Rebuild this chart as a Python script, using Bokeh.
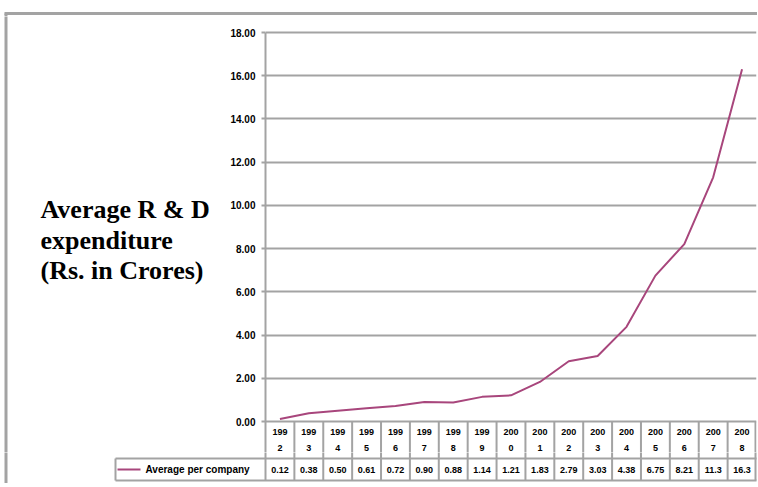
from bokeh.plotting import figure
from bokeh.layouts import column, row
from bokeh.models import Range1d, FixedTicker, NumeralTickFormatter
from bokeh.core.properties import value
from bokeh.embed import file_html
from bokeh.resources import INLINE

# ---- data ----
years = ["1992", "1993", "1994", "1995", "1996", "1997", "1998", "1999", "2000",
         "2001", "2002", "2003", "2004", "2005", "2006", "2007", "2008"]
avg_per_company = [0.12, 0.38, 0.50, 0.61, 0.72, 0.90, 0.88, 1.14, 1.21,
                   1.83, 2.79, 3.03, 4.38, 6.75, 8.21, 11.3, 16.3]
value_labels = ["0.12", "0.38", "0.50", "0.61", "0.72", "0.90", "0.88", "1.14", "1.21",
                "1.83", "2.79", "3.03", "4.38", "6.75", "8.21", "11.3", "16.3"]
y_ticks = [0, 2, 4, 6, 8, 10, 12, 14, 16, 18]
series_name = "Average per company"
title_lines = ["Average R & D", "expenditure", "(Rs. in Crores)"]

# ---- layout constants (page pixels from the layout origin) ----
W, H = 757, 483
STRIP_H = 16           # top strip that carries the outer border
TOP_END = 452          # bottom of the chart row (plot + year header)
LEFT_W = 218           # width of the title panel
AXIS_X = 265           # x of the value axis
RIGHT_PAD = 1
Y18 = 32               # y of the 18.00 line
Y0 = 421               # y of the 0.00 line
HEAD_BOT = 458         # y of the line under the year header
TAB_BOT = 480          # y of the table's bottom line
BORDER_X = 5.5
BORDER_Y = 13
n = len(years)
px_x = (W - AXIS_X - RIGHT_PAD) / n
px_y = (Y0 - Y18) / 18.0

GRAY = "#a3a3a3"
LINE_COL = "#a8467c"
FONT = value("Liberation Sans")

def bare(fig):
    fig.outline_line_color = None
    fig.grid.visible = False
    return fig

# ================= top strip (outer border) =================
strip = bare(figure(width=W, height=STRIP_H, x_range=Range1d(0, W), y_range=Range1d(-STRIP_H, 0),
                    output_backend="svg", toolbar_location=None, x_axis_location=None,
                    y_axis_location=None, min_border=0))
strip.segment(x0=[BORDER_X - 1.5, BORDER_X], y0=[-BORDER_Y, -BORDER_Y], x1=[W + 5, BORDER_X],
              y1=[-BORDER_Y, -STRIP_H - 5], line_color=GRAY, line_width=3)

ROW_H = TOP_END - STRIP_H

# ================= title panel =================
left = bare(figure(width=LEFT_W, height=ROW_H, x_range=Range1d(0, LEFT_W),
                   y_range=Range1d(-TOP_END, -STRIP_H),
                   output_backend="svg", toolbar_location=None, x_axis_location=None,
                   y_axis_location=None, min_border=0))
left.segment(x0=[BORDER_X], y0=[0], x1=[BORDER_X], y1=[-TOP_END - 5],
             line_color=GRAY, line_width=3)
left.text(x=[40] * 3, y=[-209, -240, -270], text=title_lines, text_baseline="alphabetic",
          text_font=value("Liberation Serif"), text_font_style="bold",
          text_font_size="26px", text_color="black")

# ================= line chart + year header =================
def y_main(fy):
    return (Y0 - fy) / px_y

MAIN_W = W - LEFT_W
p = figure(width=MAIN_W, height=ROW_H, x_range=Range1d(0, n),
           y_range=Range1d(y_main(TOP_END), y_main(STRIP_H)),
           output_backend="svg", toolbar_location=None, x_axis_location=None,
           min_border_left=AXIS_X - LEFT_W, min_border_right=RIGHT_PAD,
           min_border_top=0, min_border_bottom=0)
p.outline_line_color = None
p.xgrid.visible = False
p.ygrid.ticker = FixedTicker(ticks=y_ticks)
p.ygrid.grid_line_color = GRAY
p.ygrid.grid_line_width = 2

ax = p.yaxis[0]
ax.ticker = FixedTicker(ticks=y_ticks)
ax.bounds = (y_main(TOP_END + 5), 18)
ax.formatter = NumeralTickFormatter(format="0.00")
ax.axis_line_color = GRAY
ax.axis_line_width = 2
ax.major_tick_line_color = GRAY
ax.major_tick_line_width = 2
ax.major_tick_in = 0
ax.major_tick_out = 4
ax.minor_tick_line_color = None
ax.major_label_text_font = "Liberation Sans"
ax.major_label_text_font_style = "bold"
ax.major_label_text_font_size = "10px"
ax.major_label_text_color = "black"
ax.major_label_standoff = 6

xs = [i + 0.5 for i in range(n)]
p.line(xs, avg_per_company, line_color=LINE_COL, line_width=2)

# year header: column separators and labels
cols = [i + 1 for i in range(n)]
cols[-1] = n - 1.0 / px_x
p.segment(x0=cols, y0=[0] * n, x1=cols, y1=[y_main(TOP_END + 5)] * n,
          line_color=GRAY, line_width=2)
p.text(x=xs, y=[y_main(431)] * n, text=[y[:3] for y in years], text_align="center",
       text_baseline="middle", text_font=FONT, text_font_style="bold",
       text_font_size="9px", text_color="black")
p.text(x=xs, y=[y_main(447)] * n, text=[y[3:] for y in years], text_align="center",
       text_baseline="middle", text_font=FONT, text_font_style="bold",
       text_font_size="9px", text_color="black")

# ================= value row of the data table =================
TAB_H = H - TOP_END
def x_tab(fx):
    return (fx - AXIS_X) / px_x

t = bare(figure(width=W, height=TAB_H, x_range=Range1d(x_tab(0), x_tab(W)),
                y_range=Range1d(-H, -TOP_END),
                output_backend="svg", toolbar_location=None, x_axis_location=None,
                y_axis_location=None, min_border=0))

tcols = [0] + cols
t.segment(x0=tcols, y0=[-TOP_END + 5] * (n + 1), x1=tcols, y1=[-TAB_BOT] * (n + 1),
          line_color=GRAY, line_width=2)
t.segment(x0=[x_tab(115), x_tab(115)], y0=[-HEAD_BOT, -TAB_BOT], x1=[n, n],
          y1=[-HEAD_BOT, -TAB_BOT], line_color=GRAY, line_width=2)
t.segment(x0=[x_tab(115)], y0=[-HEAD_BOT], x1=[x_tab(115)], y1=[-TAB_BOT],
          line_color=GRAY, line_width=2)
# outer border (left)
t.segment(x0=[x_tab(BORDER_X)], y0=[-TOP_END + 5], x1=[x_tab(BORDER_X)], y1=[-H - 5],
          line_color=GRAY, line_width=3)

row_mid = -(HEAD_BOT + TAB_BOT) / 2
t.segment(x0=[x_tab(117)], y0=[row_mid], x1=[x_tab(140)], y1=[row_mid],
          line_color=LINE_COL, line_width=2)
t.text(x=[x_tab(145)], y=[row_mid], text=[series_name], text_baseline="middle",
       text_font=FONT, text_font_style="bold", text_font_size="10px", text_color="black")
t.text(x=xs, y=[row_mid] * n, text=value_labels, text_align="center",
       text_baseline="middle", text_font=FONT, text_font_style="bold",
       text_font_size="9px", text_color="black")

layout = column(strip, row(left, p, spacing=0), t, spacing=0)
open("out.html", "w").write(file_html(layout, INLINE))
